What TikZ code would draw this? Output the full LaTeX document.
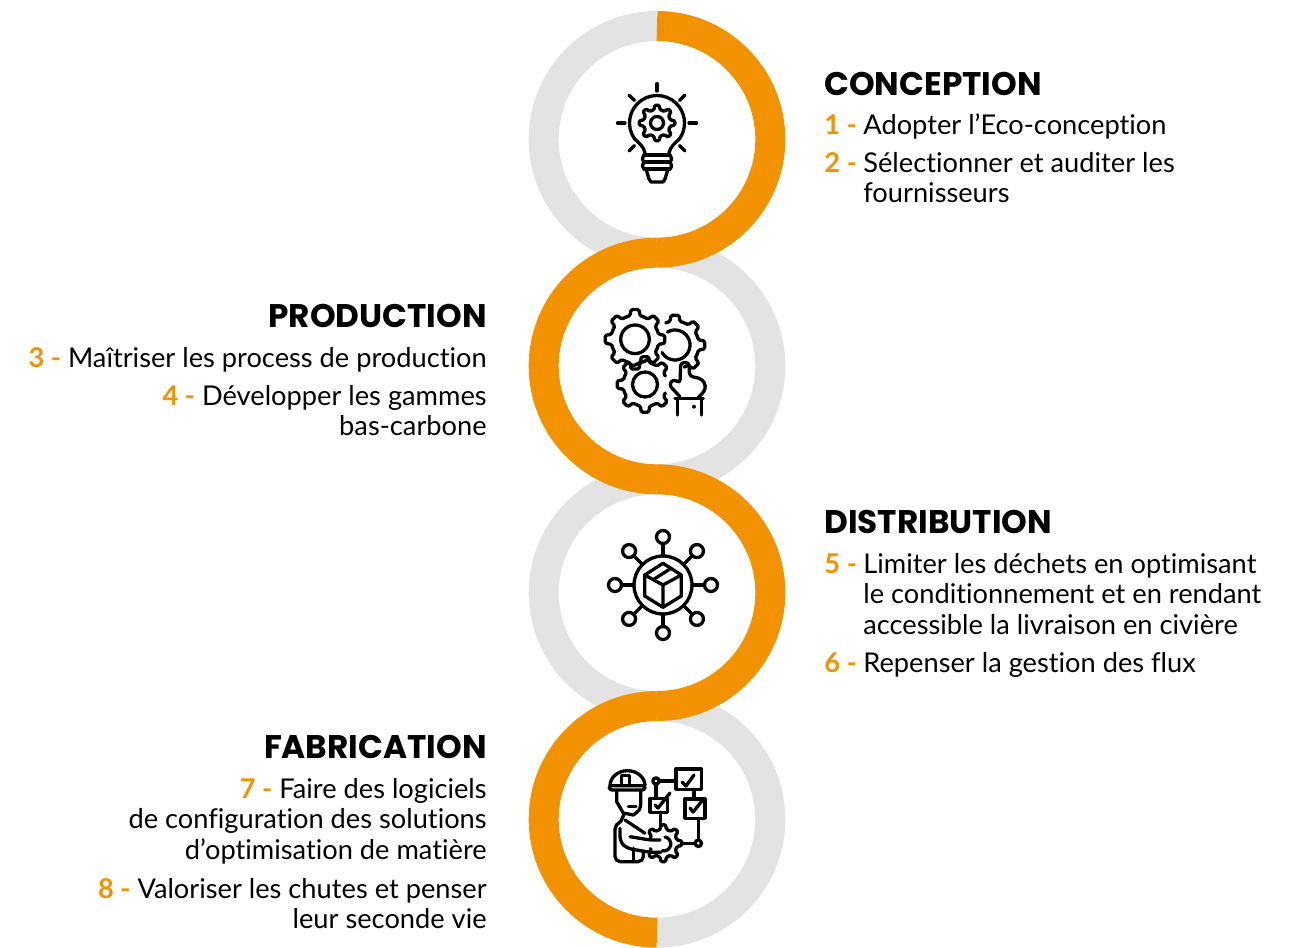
\documentclass[tikz,border=0pt]{standalone}
\usepackage{fontspec}
\setmainfont{Lato}[Ligatures=NoCommon]
\newfontfamily\titlefont{Poppins}
\definecolor{ringorange}{RGB}{243,146,0}
\definecolor{ringgray}{RGB}{227,227,227}
\newcommand{\stepnum}[1]{\textcolor{ringorange}{\textbf{#1 -}}}
\newcommand{\bodyfont}{\fontsize{15.5pt}{17.35pt}\selectfont}
\newcommand{\gearicon}[7]{%
  \begin{scope}[shift={(#1,#2)},rotate=#6]
    \pgfmathsetmacro\stepang{360/#5}
    \foreach \k in {#7}{
      \pgfmathsetmacro\ang{\k*\stepang}
      \draw[iconline,rounded corners=0.8pt] (\ang-0.5*\stepang:#4) -- (\ang-0.27*\stepang:#4) -- (\ang-0.17*\stepang:#3)
        -- (\ang+0.17*\stepang:#3) -- (\ang+0.27*\stepang:#4) -- (\ang+0.5*\stepang:#4);
    }
  \end{scope}}
\tikzset{
  ring/.style={line width=0.6cm,ringgray},
  ringhot/.style={line width=0.6cm,ringorange},
  iconline/.style={line width=0.066cm,black,line cap=round,line join=round},
  titleright/.style={anchor=base west,inner sep=0pt,font=\fontsize{18.6pt}{20pt}\selectfont\titlefont\bfseries},
  titleleft/.style={anchor=base east,inner sep=0pt,font=\fontsize{18.6pt}{20pt}\selectfont\titlefont\bfseries},
  itemright/.style={anchor=north west,align=left,inner sep=0pt,font=\bodyfont},
  itemleft/.style={anchor=north east,align=right,inner sep=0pt,font=\bodyfont},
}
\begin{document}
\begin{tikzpicture}[x=0.02cm,y=0.02cm]
  \useasboundingbox (0,0) rectangle (1297,947);
  % rings
  \draw[ring] (657,921) arc (90:270:113.33);
  \draw[ring] (657,694.33) arc (90:-90:113.33);
  \draw[ring] (657,467.67) arc (90:270:113.33);
  \draw[ring] (657,241) arc (90:-90:113.33);
  \draw[ringhot] (657,921) arc (90:-90:113.33);
  \draw[ringhot] (657,694.33) arc (90:270:113.33);
  \draw[ringhot] (657,467.67) arc (90:-90:113.33);
  \draw[ringhot] (657,241) arc (90:270:113.33);

  % bulb
  \begin{scope}[shift={(657,824)}]
    \draw[iconline] (-12,-30) .. controls (-13,-24) and (-18,-20) .. (215:27.5) arc (215:-35:27.5) .. controls (18,-20) and (13,-24) .. (12,-30);
    \foreach \a in {0,45,90,135,180,225,315}
      \draw[iconline] (\a:32) -- (\a:39.5);
    \draw[iconline] (-13,-32) -- (13,-32) (-13,-39) -- (13,-39) (-13,-46) -- (13,-46);
    \draw[iconline] (-13,-32) .. controls (-15,-36) .. (-13,-39) (13,-32) .. controls (15,-36) .. (13,-39);
    \draw[iconline] (-13,-39) .. controls (-15,-43) .. (-13,-46) (13,-39) .. controls (15,-43) .. (13,-46);
    \draw[iconline] (-11,-46) -- (-8,-56) -- (-6,-59) -- (6,-59) -- (8,-56) -- (11,-46);
    \draw[iconline] (0,0) circle (6.5);
    \gearicon{0}{0}{18}{13.5}{8}{0}{0,...,7}
  \end{scope}

  % gears and hand
  \begin{scope}[shift={(655,582)}]
    \draw[iconline] (-20,25.7) circle (14.3);
    \gearicon{-20}{25.7}{30}{24}{8}{0}{0,...,7}
    \draw[iconline] (20,20) ++ (120:15) arc (120:-150:15);
    \gearicon{20}{20}{30}{24}{8}{0}{-1,0,1,2}
    \draw[iconline] (-10,-19.5) circle (12.5);
    \gearicon{-10}{-19.5}{28}{22}{8}{0}{1,...,7}
    \draw[iconline,rounded corners=2pt] (25,-31.7) -- (14,-20) -- (18.3,-14) -- (25,-18.3) -- (25.7,2.5) -- (34.3,2.5) -- (34.3,-11) -- (47,-14) -- (51,-21) -- (49,-27) -- (43.3,-32.3);
    \draw[iconline] (20,-33.3) -- (48.3,-33.3) (22.3,-33.3) -- (22.3,-50) (46.7,-33.3) -- (46.7,-50);
    \fill (39,-41.7) circle (2);
  \end{scope}

  % parcel network
  \begin{scope}[shift={(663,362)}]
    \draw[iconline] (0,0) circle (29);
    \foreach \a in {0,45,...,315}{
      \draw[iconline] (\a:29) -- (\a:41.5);
      \draw[iconline] (\a:48) circle (6.5);
    }
    \draw[iconline] (0,21.7) -- (18.3,10) -- (18.3,-11) -- (0,-22.3) -- (-18.3,-11) -- (-18.3,10) -- cycle;
    \draw[iconline] (-18.3,10) -- (0,0) -- (18.3,10) (0,0) -- (0,-22.3);
    \draw[iconline] (-8.7,6) -- (8,16.7);
  \end{scope}

  % worker and flow chart
  \begin{scope}[shift={(660,132)}]
    \draw[iconline] (16,25.7) rectangle (41.7,46);
    \draw[iconline] (-10,2.7) rectangle (7.7,16.7);
    \draw[iconline] (25,-3.3) rectangle (45,16);
    \draw[iconline] (22,33) -- (26,29) -- (34,40);
    \draw[iconline] (-5,10) -- (-2,7) -- (10,22);
    \draw[iconline] (30,7) -- (33,3) -- (42,14);
    \draw[iconline] (-4,34) circle (3.2);
    \draw[iconline] (38.3,-28.3) circle (3.2);
    \draw[iconline] (-0.8,34) -- (16,34) (-4,30.8) -- (-4,16.7) (34,25.7) -- (34,16) (38.3,-3.3) -- (38.3,-25.1) (22,-28.3) -- (35.1,-28.3) (0.7,2.7) -- (0.7,-10);
    \gearicon{3.3}{-28.3}{18.7}{14}{8}{0}{-3,...,3}
    \draw[iconline] (5,-22) arc (80:-100:7);
    % worker
    \draw[iconline] (-50,29.3) arc (180:0:17.5 and 15);
    \draw[iconline,rounded corners=1.5pt] (-50.7,29.3) rectangle (-15,25);
    \draw[iconline] (-38.3,31.7) -- (-38.3,39.3) -- (-30.7,39.3) -- (-30.7,31.7);
    \draw[iconline] (-43.3,24) -- (-43.3,13.3) -- (-36,0.7) -- (-39.3,-6.7);
    \draw[iconline] (-19.3,24) -- (-19.3,11.7) .. controls (-20,5) .. (-26.7,0) -- (-35,1.7);
    \draw[iconline] (-31.7,8.3) -- (-24,8.3);
    \draw[iconline,rounded corners=3pt] (-39.3,-6.7) -- (-45,-9) -- (-45,-46.7) -- (-16.7,-46.7) -- (-16.7,-37);
    \draw[iconline] (-35,-5) -- (-15,-18.3);
    \draw[iconline,rounded corners=3pt] (-40,-13.3) -- (-40,-26.7) -- (-33.3,-33.3) -- (-10,-37.3) -- (1,-37.3);
    \draw[iconline] (-26.7,-33.3) -- (-26.7,-46.7);
    \draw[iconline,rounded corners=2pt] (-30,-21.7) -- (-10,-25) -- (0,-25);
  \end{scope}

  % texts
  \node[titleright] (conception) at (824,851.5) {CONCEPTION};
  \node[itemright] (num1) at (824,834.4) {\strut\stepnum{1}};
  \node[itemright] (item1) at (863,834.4) {\strut Adopter l’Eco-conception};
  \node[itemright] (num2) at (824,796.4) {\strut\stepnum{2}};
  \node[itemright] (item2) at (863,796.4) {\strut Sélectionner et auditer les\\\strut fournisseurs};

  \node[titleleft] (production) at (487,619) {PRODUCTION};
  \node[itemleft] (item3) at (487,601.4) {\strut\stepnum{3} Maîtriser les process de production};
  \node[itemleft] (item4) at (487,563.4) {\strut\stepnum{4} Développer les gammes\\\strut bas-carbone};

  \node[titleright] (distribution) at (824,414) {DISTRIBUTION};
  \node[itemright] (num5) at (824,395.4) {\strut\stepnum{5}};
  \node[itemright] (item5) at (863,395.4) {\strut Limiter les déchets en optimisant\\\strut le conditionnement et en rendant\\\strut accessible la livraison en civière};
  \node[itemright] (num6) at (824,296.4) {\strut\stepnum{6}};
  \node[itemright] (item6) at (863,296.4) {\strut Repenser la gestion des flux};

  \node[titleleft] (fabrication) at (487,188.5) {FABRICATION};
  \node[itemleft] (item7) at (487,170.4) {\strut\stepnum{7} Faire des logiciels\\\strut de configuration des solutions\\\strut d’optimisation de matière};
  \node[itemleft] (item8) at (487,70.4) {\strut\stepnum{8} Valoriser les chutes et penser\\\strut leur seconde vie};
\end{tikzpicture}
\end{document}
